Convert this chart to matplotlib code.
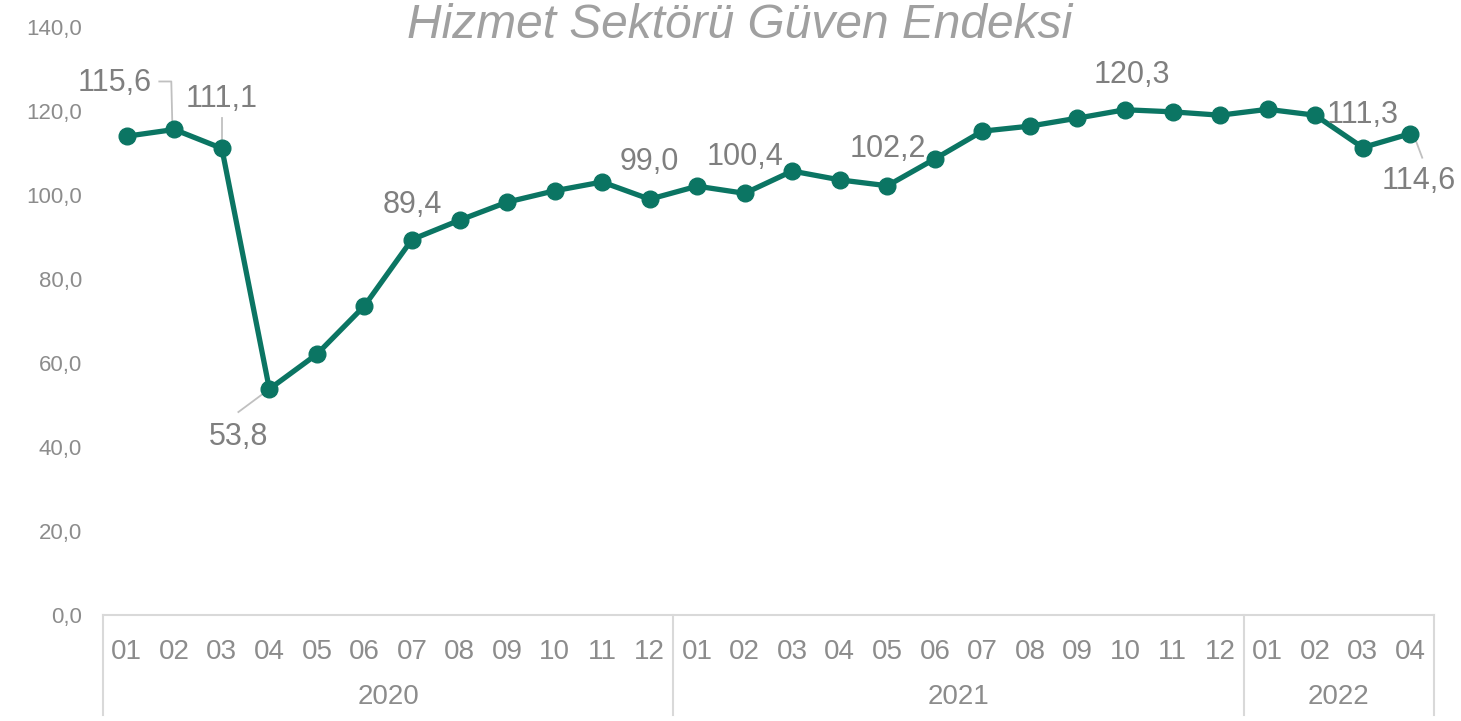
import matplotlib.pyplot as plt
import matplotlib.transforms as mtransforms

plt.rcParams['font.family'] = ['Liberation Sans', 'DejaVu Sans']

# data
months = ['01', '02', '03', '04', '05', '06', '07', '08', '09', '10', '11', '12',
          '01', '02', '03', '04', '05', '06', '07', '08', '09', '10', '11', '12',
          '01', '02', '03', '04']
years = ['2020', '2021', '2022']
year_counts = [12, 12, 4]
values = [114.0, 115.6, 111.1, 53.8, 62.1, 73.6, 89.4, 94.0, 98.3, 101.0, 103.1, 99.0,
          102.1, 100.4, 105.7, 103.6, 102.2, 108.6, 115.2, 116.4, 118.3, 120.3, 119.8, 119.0,
          120.4, 119.0, 111.3, 114.6]

# labelled points: index -> text offset in pixels
labels = {1: (-60, 46), 2: (0, 49), 3: (-31, -48), 6: (0, 35), 11: (0, 37),
          13: (0, 36), 16: (0, 37), 21: (7, 35), 26: (0, 33), 27: (9, -47)}
# leader lines, pixel offsets from the point
leaders = {1: [(-15, 48), (-3, 48), (-2, 6)],
           2: [(0, 30), (0, 4)],
           3: [(-31, -23), (0, 0)],
           27: [(12, -24), (3, 0)]}

line_color = '#0b7563'
text_gray = '#8c8c8c'
label_gray = '#7f7f7f'
axis_gray = '#d9d9d9'

fig = plt.figure(figsize=(14.61, 7.21), dpi=100)
ax = fig.add_axes([103 / 1461, 106 / 721, 1331 / 1461, 588 / 721])

x = list(range(len(values)))
ax.plot(x, values, color=line_color, lw=3.8, marker='o', ms=12, zorder=3,
        solid_capstyle='round')

ax.set_xlim(-0.5, len(values) - 0.5)
ax.set_ylim(0, 140)
ax.set_yticks(range(0, 141, 20))
ax.set_yticklabels([f'{v:.1f}'.replace('.', ',') for v in range(0, 141, 20)])
ax.set_xticks(x)
ax.set_xticklabels(months)
ax.tick_params(axis='y', length=0, pad=15, labelsize=16, labelcolor=text_gray)
ax.tick_params(axis='x', length=0, pad=17, labelsize=20, labelcolor=text_gray)

for s in ['top', 'right', 'left']:
    ax.spines[s].set_visible(False)
ax.spines['bottom'].set_color(axis_gray)
ax.spines['bottom'].set_linewidth(1.5)

# year groups under the month labels
trans = mtransforms.blended_transform_factory(ax.transData, ax.transAxes)
start = 0
bounds = [-0.5]
for yr, n in zip(years, year_counts):
    ax.text(start + (n - 1) / 2, -0.139, yr, transform=trans, ha='center', va='center',
            fontsize=20, color=text_gray)
    start += n
    bounds.append(start - 0.5)
for b in bounds:
    ax.plot([b, b], [0, -0.17], transform=trans, color=axis_gray, lw=1.5, clip_on=False)

# data labels and leader lines
for i, (dx, dy) in labels.items():
    txt = f'{values[i]:.1f}'.replace('.', ',')
    ax.annotate(txt, xy=(i, values[i]), xytext=(dx, dy), textcoords='offset pixels',
                ha='center', va='center', fontsize=22, color=label_gray, zorder=4)
for i, pts in leaders.items():
    xs = [p[0] for p in pts]
    ys = [p[1] for p in pts]
    tr = mtransforms.Affine2D().translate(*ax.transData.transform((i, values[i])))
    ax.plot(xs, ys, transform=tr, color='#c0c0c0', lw=1.3, zorder=2, clip_on=False)

fig.text(740 / 1461, 1 - 38 / 721, 'Hizmet Sektörü Güven Endeksi', ha='center', va='baseline',
         fontsize=34.5, style='italic', color='#a0a0a0')

fig.savefig('out.png', dpi=100)
